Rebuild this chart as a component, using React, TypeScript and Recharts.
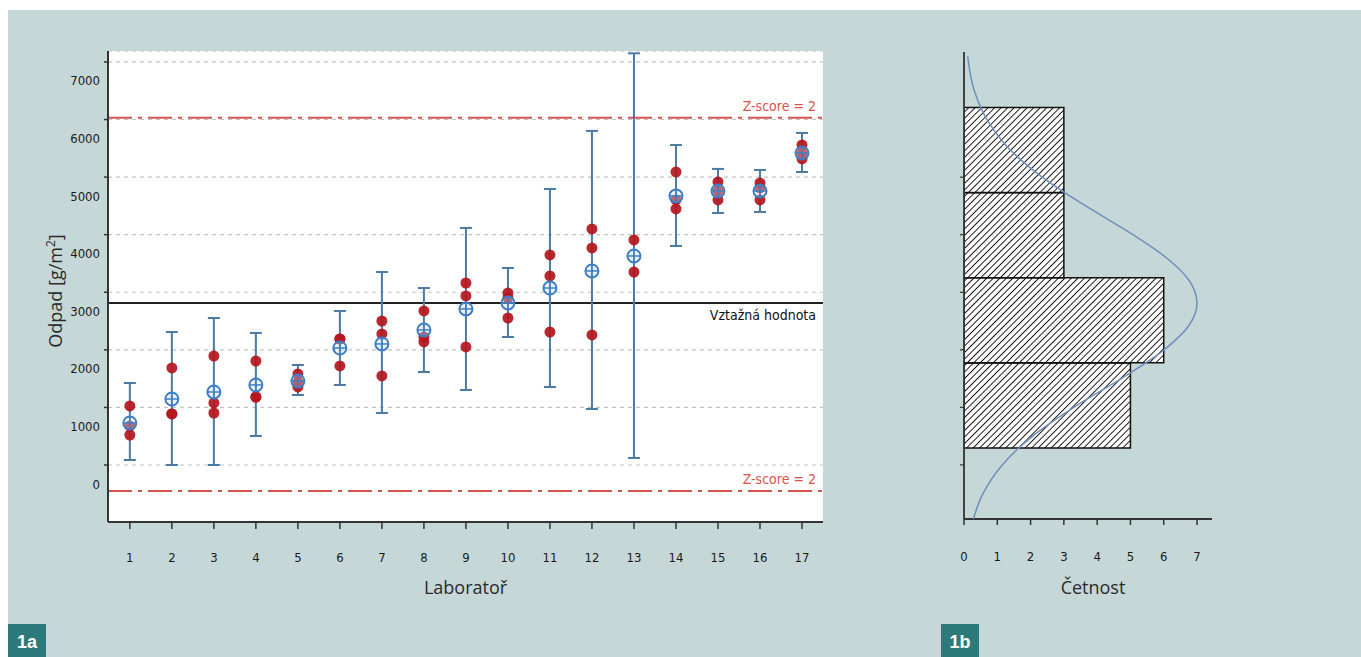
import React from 'react';
import {
  ComposedChart,
  Scatter,
  XAxis,
  YAxis,
  CartesianGrid,
  ReferenceLine,
  ErrorBar,
  BarChart,
  Bar,
  LineChart,
  Line,
} from 'recharts';

// --- 1a: results per laboratory ---
const labs = [1, 2, 3, 4, 5, 6, 7, 8, 9, 10, 11, 12, 13, 14, 15, 16, 17];
const labMeans = [730, 1146, 1268, 1390, 1459, 2032, 2102, 2345, 2710, 2814, 3074, 3370, 3630, 4673, 4759, 4759, 5419];
const errLow = [87, 0, 0, 504, 1216, 1390, 903, 1615, 1303, 2223, 1355, 973, 122, 3804, 4377, 4395, 5089];
const errHigh = [1424, 2310, 2553, 2293, 1737, 2675, 3352, 3074, 4117, 3422, 4794, 5802, 7150, 5558, 5142, 5124, 5767];
const replicates = [
  [1025, 677, 521],
  [1685, 886, 886],
  [1893, 1077, 903],
  [1806, 1181, 1181],
  [1581, 1442, 1355],
  [2189, 2189, 1720],
  [2501, 2275, 1546],
  [2675, 2223, 2137],
  [3161, 2936, 2050],
  [2988, 2901, 2553],
  [3648, 3283, 2310],
  [4099, 3769, 2258],
  [3908, 3352],
  [5089, 4603, 4447],
  [4916, 4759, 4603],
  [4898, 4811, 4603],
  [5558, 5419, 5315],
];
const assignedValue = 2814;
const zUpper = 6030;
const zLower = -450;
const yTicks = [0, 1000, 2000, 3000, 4000, 5000, 6000, 7000];

// --- 1b: histogram of lab means ---
const binLow = [290, 1770, 3250, 4730];
const binHigh = [1770, 3250, 4730, 6210];
const binCounts = [5, 6, 3, 3];
const countTicks = [0, 1, 2, 3, 4, 5, 6, 7];
const histTicks = [0, 1000, 2000, 3000, 4000, 5000];
const curveValues = [-940, -500, 0, 500, 1000, 1500, 2000, 2400, 2814, 3200, 3600, 4000, 4400, 4800, 5200, 5600, 6000, 6500, 7100];
const curveCounts = [0.28, 0.57, 1.15, 2.06, 3.3, 4.72, 6.01, 6.73, 7.0, 6.77, 6.08, 5.08, 3.94, 2.84, 1.91, 1.19, 0.69, 0.31, 0.11];

const meanRows = labs.map((x, i) => ({
  x,
  y: labMeans[i],
  err: [labMeans[i] - errLow[i], errHigh[i] - labMeans[i]],
}));
const repRows = labs.flatMap((x, i) => replicates[i].map((y) => ({ x, y })));
const binRows = binCounts.map((count, i) => ({ mid: (binLow[i] + binHigh[i]) / 2, count }));
const curveRows = curveValues.map((v, i) => ({ v, n: curveCounts[i] }));

const tickFont = '"DejaVu Sans Condensed", "DejaVu Sans", sans-serif';
const titleFont = '"Open Sans", sans-serif';
const Y_DOMAIN = [-990, 7190];
const H_DOMAIN = [-940, 7175];
const RED = '#d9534f';
const BAR_BLUE = '#4b7aa5';

const YTick = (props: any) => {
  const { x, y, payload } = props;
  return (
    <text x={x} y={y + 19} dy="0.35em" textAnchor="end" fontSize={13} fontFamily={tickFont} fill="#1a1a1a">
      {payload.value}
    </text>
  );
};

const Empty = () => <g />;

const RedDot = (props: any) => (
  <circle cx={props.cx} cy={props.cy} r={5.5} fill="#b3161d" fillOpacity={0.92} />
);

const MeanMarker = (props: any) => {
  const { cx, cy } = props;
  const r = 6.5;
  return (
    <g>
      <circle cx={cx} cy={cy} r={r} fill="#c8dcf0" fillOpacity={0.35} stroke="#3d7fc4" strokeWidth={2} />
      <line x1={cx - r} y1={cy} x2={cx + r} y2={cy} stroke="#3d7fc4" strokeWidth={1.5} />
      <line x1={cx} y1={cy - r} x2={cx} y2={cy + r} stroke="#3d7fc4" strokeWidth={1.5} />
    </g>
  );
};

const refLabel = (text: string, color: string, below: boolean) => ({
  value: text,
  position: below ? 'insideTopRight' : 'insideBottomRight',
  offset: 7,
  fill: color,
  fontSize: 14,
  fontFamily: tickFont,
});

function LabChart() {
  return (
    <ComposedChart width={900} height={620} margin={{ top: 51, right: 77, bottom: 58, left: 48 }}>
      <CartesianGrid vertical={false} stroke="#c4c4c4" strokeDasharray="4 4" strokeWidth={1.2} fill="#ffffff" />
      <XAxis
        type="number"
        dataKey="x"
        domain={[0.48, 17.5]}
        ticks={labs}
        allowDataOverflow
        height={40}
        tickSize={7}
        tickMargin={24}
        axisLine={{ stroke: '#333', strokeWidth: 2 }}
        tickLine={{ stroke: '#333', strokeWidth: 1.5 }}
        tick={{ fontSize: 13, fill: '#1a1a1a', fontFamily: tickFont }}
        label={{
          content: (p: any) => (
            <text x={p.viewBox.x + p.viewBox.width / 2} y={p.viewBox.y + 72} textAnchor="middle" fontSize={18} fontFamily={titleFont} fill="#2a2a2a">
              Laboratoř
            </text>
          ),
        }}
      />
      <XAxis xAxisId="top" orientation="top" type="number" domain={[0.48, 17.5]} allowDataOverflow height={0} tick={false} tickLine={false} axisLine={{ stroke: '#333', strokeWidth: 2 }} />
      <YAxis
        type="number"
        dataKey="y"
        domain={Y_DOMAIN}
        ticks={yTicks}
        allowDataOverflow
        width={60}
        tickSize={4}
        tickMargin={4}
        axisLine={{ stroke: '#333', strokeWidth: 2 }}
        tickLine={{ stroke: '#333', strokeWidth: 1.5 }}
        tick={<YTick />}
        label={{
          content: () => (
            <text x={62} y={291} transform="rotate(-90 62 291)" textAnchor="middle" fontSize={18} fontFamily={titleFont} fill="#2a2a2a">
              Odpad [g/m<tspan dy={-7} fontSize={12}>2</tspan><tspan dy={7}>]</tspan>
            </text>
          ),
        }}
      />
      <YAxis yAxisId="right" orientation="right" type="number" domain={Y_DOMAIN} allowDataOverflow width={0} tick={false} tickLine={false} axisLine={{ stroke: '#333', strokeWidth: 2 }} />
      <ReferenceLine y={zUpper} stroke={RED} strokeWidth={2} strokeDasharray="24 6 4 6" label={refLabel('Z-score = 2', RED, false) as any} />
      <ReferenceLine y={zLower} stroke={RED} strokeWidth={2} strokeDasharray="24 6 4 6" label={refLabel('Z-score = 2', RED, false) as any} />
      <ReferenceLine y={assignedValue} stroke="#222" strokeWidth={2} label={refLabel('Vztažná hodnota', '#111', true) as any} />
      <Scatter data={meanRows} shape={<Empty />} isAnimationActive={false}>
        <ErrorBar dataKey="err" direction="y" width={6} stroke={BAR_BLUE} strokeWidth={2} isAnimationActive={false} />
      </Scatter>
      <Scatter data={repRows} shape={<RedDot />} isAnimationActive={false} />
      <Scatter data={meanRows} shape={<MeanMarker />} isAnimationActive={false} />
    </ComposedChart>
  );
}

const HIST_MARGIN = { top: 52, right: 88, bottom: 61, left: 4 };

function HistChart() {
  return (
    <div style={{ position: 'relative', width: 400, height: 620 }}>
      <div style={{ position: 'absolute', left: 0, top: 0 }}>
        <BarChart layout="vertical" width={400} height={620} data={binRows} margin={HIST_MARGIN} barCategoryGap={0}>
          <defs>
            <pattern id="hatch" patternUnits="userSpaceOnUse" width={4.6} height={4.6} patternTransform="rotate(45)">
              <rect width={4.6} height={4.6} fill="#ffffff" />
              <line x1={0} y1={0} x2={0} y2={4.6} stroke="#111" strokeWidth={1.9} />
            </pattern>
          </defs>
          <XAxis
            type="number"
            domain={[0, 7.45]}
            ticks={countTicks}
            allowDataOverflow
            height={40}
            tickSize={6}
            tickMargin={27}
            axisLine={{ stroke: '#333', strokeWidth: 1.8 }}
            tickLine={{ stroke: '#333', strokeWidth: 1.5 }}
            tick={{ fontSize: 13, fill: '#1a1a1a', fontFamily: tickFont }}
            label={{
              content: (p: any) => (
                <text x={p.viewBox.x + 129} y={p.viewBox.y + 75} textAnchor="middle" fontSize={18} fontFamily={titleFont} fill="#2a2a2a">
                  Četnost
                </text>
              ),
            }}
          />
          <YAxis
            type="number"
            dataKey="mid"
            domain={H_DOMAIN}
            ticks={histTicks}
            reversed
            allowDataOverflow
            width={60}
            tickSize={4}
            axisLine={{ stroke: '#333', strokeWidth: 1.8 }}
            tickLine={{ stroke: '#333', strokeWidth: 1.2 }}
            tick={<Empty />}
          />
          <Bar dataKey="count" fill="url(#hatch)" stroke="#111" strokeWidth={1.5} isAnimationActive={false} />
        </BarChart>
      </div>
      <div style={{ position: 'absolute', left: 0, top: 0 }}>
        <LineChart layout="vertical" width={400} height={620} data={curveRows} margin={HIST_MARGIN}>
          <XAxis type="number" domain={[0, 7.45]} allowDataOverflow height={40} tick={false} tickLine={false} axisLine={false} />
          <YAxis type="number" dataKey="v" domain={H_DOMAIN} reversed allowDataOverflow width={60} tick={false} tickLine={false} axisLine={false} />
          <Line dataKey="n" type="monotone" stroke="#6f8fbd" strokeWidth={1.5} dot={false} isAnimationActive={false} />
        </LineChart>
      </div>
    </div>
  );
}

const badge: React.CSSProperties = {
  position: 'absolute',
  top: 624,
  width: 38,
  height: 33,
  background: '#2d7a7c',
  color: '#fff',
  fontFamily: '"Liberation Sans", Arial, sans-serif',
  fontWeight: 700,
  fontSize: 18,
  lineHeight: '36px',
  textAlign: 'center',
};

export default function App() {
  return (
    <div style={{ position: 'absolute', left: 0, top: 0, width: 1361, height: 657, overflow: 'hidden', background: '#ffffff' }}>
      <div style={{ position: 'absolute', left: 8, top: 10, width: 1353, height: 647, background: '#c6d7d7' }} />
      <div style={{ position: 'absolute', left: 0, top: 0 }}>
        <LabChart />
      </div>
      <div style={{ position: 'absolute', left: 900, top: 0 }}>
        <HistChart />
      </div>
      <div style={{ ...badge, left: 8 }}>1a</div>
      <div style={{ ...badge, left: 941 }}>1b</div>
    </div>
  );
}
